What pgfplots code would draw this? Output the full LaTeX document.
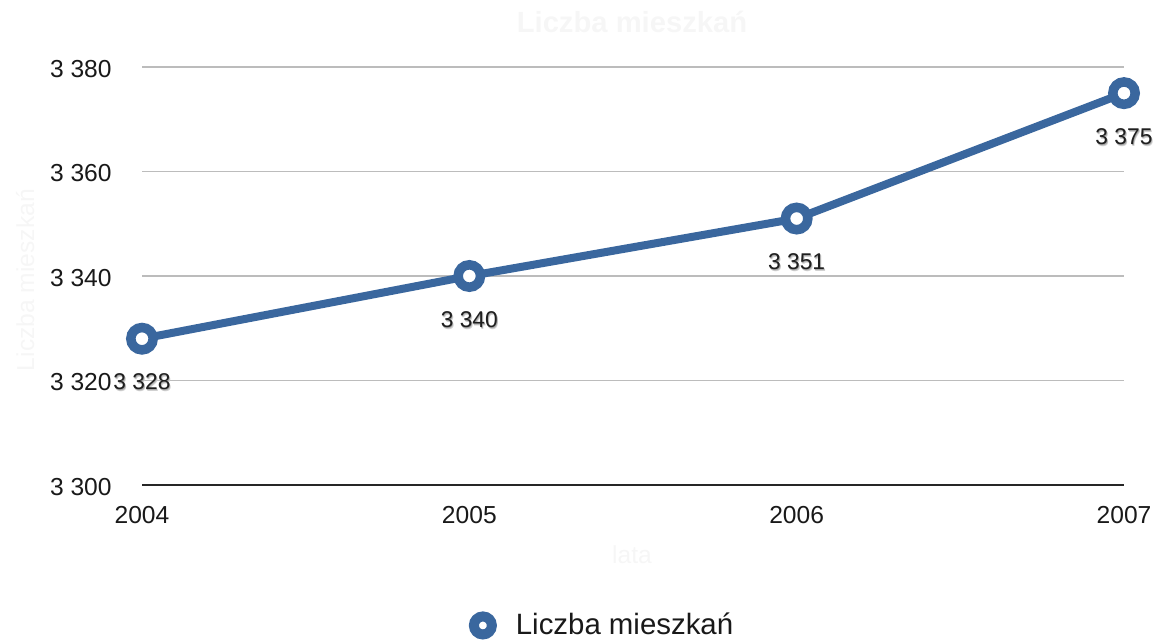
\documentclass[border=0pt]{standalone}
\usepackage{pgfplots}
\pgfplotsset{compat=1.18}
\usepackage{fontspec}
\setmainfont{Liberation Sans}

\definecolor{lineblue}{RGB}{58,103,158}
\definecolor{gridgray}{RGB}{188,188,188}
\definecolor{ghost}{RGB}{246,246,246}

% 1 px of the reference = 0.5pt
\pgfplotstableread{
year pop
2004 3328
2005 3340
2006 3351
2007 3375
}\popdata

\begin{document}
\begin{tikzpicture}
\useasboundingbox (0,0) rectangle (579.5pt,319.5pt);
\begin{axis}[
  at={(71pt,77pt)}, anchor=south west,
  scale only axis, width=491pt, height=209pt,
  xmin=2004, xmax=2007, ymin=3300, ymax=3380,
  xtick={2004,2005,2006,2007},
  ytick={3300,3320,...,3380},
  axis line style={draw=none},
  major tick length=0pt,
  ymajorgrids, grid style={gridgray, line width=0.7pt},
  extra y ticks={3300}, extra y tick labels={},
  extra y tick style={grid style={black!85, line width=0.8pt}},
  clip=false,
  /pgf/number format/.cd, 1000 sep={\ }, assume math mode=true, /pgfplots/.cd,
  xticklabel={\pgfmathprintnumber[1000 sep={}]{\tick}},
  ticklabel style={font=\fontsize{12.3}{14}\selectfont, text=black!90},
  yticklabel style={anchor=base east, inner sep=0pt, xshift=-15pt, yshift=-5pt},
  xticklabel style={anchor=base, inner sep=0pt, yshift=-19pt},
  title={Liczba mieszkań},
  title style={at={(0.499,1.079)}, anchor=center, font=\bfseries\fontsize{14.6}{17}\selectfont, text=ghost},
  xlabel={lata},
  xlabel style={at={(0.499,-0.1675)}, anchor=center, font=\fontsize{12.3}{14}\selectfont, text=ghost},
  ylabel={Liczba mieszkań},
  ylabel style={at={(-0.119,0.49)}, anchor=center, rotate=0, font=\fontsize{12.3}{14}\selectfont, text=ghost},
  legend style={draw=none, fill=none, at={(0.4695,-0.336)}, anchor=center,
    font=\fontsize{14.7}{17}\selectfont, text=black!90},
  legend image code/.code={%
    \path[draw=none] (-4.5pt,0pt) -- (14.5pt,0pt);
    \draw[lineblue, line width=5pt, fill=white] (0pt,0pt) circle (4.5pt);},
  nodes near coords align={center},
]
% label shadows
\addplot[forget plot, draw=none, nodes near coords,
  every node near coord/.style={anchor=base, yshift=-26.5pt, xshift=0.6pt, text=black!18,
    font=\fontsize{11.4}{13}\selectfont}]
  table[x=year, y=pop] {\popdata};
\addplot[forget plot, draw=none, nodes near coords,
  every node near coord/.style={anchor=base, yshift=-26pt, xshift=0.3pt, text=black!35,
    font=\fontsize{11.4}{13}\selectfont}]
  table[x=year, y=pop] {\popdata};
% main series
\addplot[lineblue, line width=4pt, mark=*,
  mark options={line width=4.75pt, fill=white, draw=lineblue},
  mark size=5.6pt,
  nodes near coords,
  every node near coord/.style={anchor=base, yshift=-25.5pt, text=black!88,
    font=\fontsize{11.4}{13}\selectfont}]
  table[x=year, y=pop] {\popdata};
\addlegendentry{Liczba mieszkań}
\end{axis}
\end{tikzpicture}
\end{document}
